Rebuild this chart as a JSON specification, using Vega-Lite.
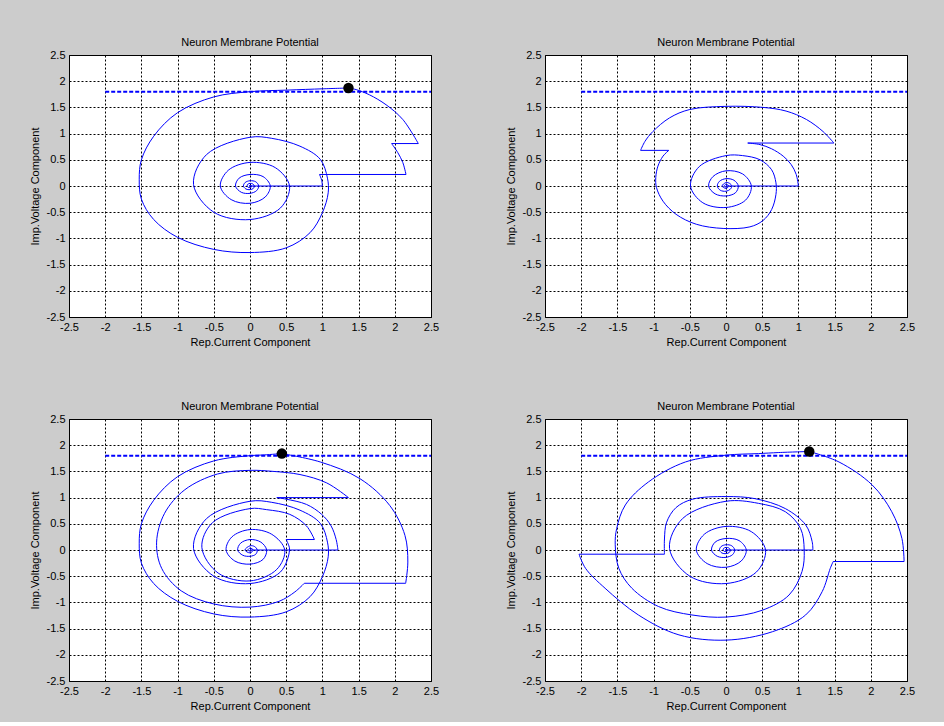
{
"$schema":"https://vega.github.io/schema/vega-lite/v6.json",
"background":"#cccccc",
"padding":{"left":28,"top":36,"right":28,"bottom":10},
"columns":2,
"spacing":{"row":102,"column":114},
"bounds":"flush",
"datasets":{
"thr":[{"x":-2,"y":1.8},{"x":2.5,"y":1.8}],
"dot":[{"p":1,"x":1.36,"y":1.87},{"p":3,"x":0.44,"y":1.84},{"p":4,"x":1.15,"y":1.88}],
"traj":[
{"p":1,"s":1,"i":0,"x":0,"y":0},{"p":1,"s":1,"i":1,"x":1.0,"y":0},
{"p":1,"s":2,"i":0,"x":1.0,"y":0},{"p":1,"s":2,"i":1,"x":0.99,"y":0.11},{"p":1,"s":2,"i":2,"x":0.96,"y":0.22},
{"p":1,"s":3,"i":0,"x":0.96,"y":0.22},{"p":1,"s":3,"i":1,"x":2.155,"y":0.22},
{"p":1,"s":4,"i":0,"x":2.155,"y":0.22},{"p":1,"s":4,"i":1,"x":2.11,"y":0.45},{"p":1,"s":4,"i":2,"x":2.04,"y":0.64},{"p":1,"s":4,"i":3,"x":1.956,"y":0.81},
{"p":1,"s":5,"i":0,"x":1.956,"y":0.81},{"p":1,"s":5,"i":1,"x":2.325,"y":0.81},
{"p":1,"s":6,"i":0,"x":2.325,"y":0.81},{"p":1,"s":6,"i":1,"x":2.11,"y":1.27},{"p":1,"s":6,"i":2,"x":1.88,"y":1.55},{"p":1,"s":6,"i":3,"x":1.65,"y":1.74},{"p":1,"s":6,"i":4,"x":1.465,"y":1.84},{"p":1,"s":6,"i":5,"x":1.36,"y":1.87},
{"p":1,"s":7,"i":0,"x":1.36,"y":1.87},{"p":1,"s":7,"i":1,"x":1.01,"y":1.855},{"p":1,"s":7,"i":2,"x":0.51,"y":1.83},{"p":1,"s":7,"i":3,"x":0,"y":1.8},{"p":1,"s":7,"i":4,"x":-0.5,"y":1.7},{"p":1,"s":7,"i":5,"x":-1.0,"y":1.4},{"p":1,"s":7,"i":6,"x":-1.33,"y":0.95},{"p":1,"s":7,"i":7,"x":-1.5,"y":0.5},{"p":1,"s":7,"i":8,"x":-1.53,"y":0.13},{"p":1,"s":7,"i":9,"x":-1.5,"y":-0.25},{"p":1,"s":7,"i":10,"x":-1.33,"y":-0.64},{"p":1,"s":7,"i":11,"x":-1.0,"y":-0.98},{"p":1,"s":7,"i":12,"x":-0.5,"y":-1.21},{"p":1,"s":7,"i":13,"x":0,"y":-1.27},{"p":1,"s":7,"i":14,"x":0.5,"y":-1.18},{"p":1,"s":7,"i":15,"x":0.83,"y":-0.89},{"p":1,"s":7,"i":16,"x":1.0,"y":-0.51},{"p":1,"s":7,"i":17,"x":1.08,"y":-0.13},{"p":1,"s":7,"i":18,"x":1.07,"y":0.15},{"p":1,"s":7,"i":19,"x":0.97,"y":0.51},{"p":1,"s":7,"i":20,"x":0.69,"y":0.76},{"p":1,"s":7,"i":21,"x":0.3,"y":0.91},{"p":1,"s":7,"i":22,"x":0,"y":0.93},
{"p":1,"s":7,"i":23,"x":-0.6,"y":0.6},{"p":1,"s":7,"i":24,"x":-0.78,"y":0.03},{"p":1,"s":7,"i":25,"x":-0.5,"y":-0.5},{"p":1,"s":7,"i":26,"x":0,"y":-0.64},{"p":1,"s":7,"i":27,"x":0.42,"y":-0.42},{"p":1,"s":7,"i":28,"x":0.546,"y":0},{"p":1,"s":7,"i":29,"x":0.35,"y":0.35},{"p":1,"s":7,"i":30,"x":0,"y":0.45},{"p":1,"s":7,"i":31,"x":-0.3,"y":0.3},{"p":1,"s":7,"i":32,"x":-0.41,"y":0},{"p":1,"s":7,"i":33,"x":-0.26,"y":-0.26},{"p":1,"s":7,"i":34,"x":0,"y":-0.33},{"p":1,"s":7,"i":35,"x":0.21,"y":-0.21},{"p":1,"s":7,"i":36,"x":0.28,"y":0},{"p":1,"s":7,"i":37,"x":0.18,"y":0.18},{"p":1,"s":7,"i":38,"x":0,"y":0.22},{"p":1,"s":7,"i":39,"x":-0.15,"y":0.15},{"p":1,"s":7,"i":40,"x":-0.2,"y":0},{"p":1,"s":7,"i":41,"x":-0.12,"y":-0.12},{"p":1,"s":7,"i":42,"x":0,"y":-0.14},{"p":1,"s":7,"i":43,"x":0.09,"y":-0.09},{"p":1,"s":7,"i":44,"x":0.12,"y":0},{"p":1,"s":7,"i":45,"x":0.08,"y":0.08},{"p":1,"s":7,"i":46,"x":0,"y":0.1},{"p":1,"s":7,"i":47,"x":-0.067,"y":0.067},{"p":1,"s":7,"i":48,"x":-0.09,"y":0},{"p":1,"s":7,"i":49,"x":-0.057,"y":-0.057},{"p":1,"s":7,"i":50,"x":0,"y":-0.07},{"p":1,"s":7,"i":51,"x":0.046,"y":-0.046},{"p":1,"s":7,"i":52,"x":0.06,"y":0},{"p":1,"s":7,"i":53,"x":0.039,"y":0.039},{"p":1,"s":7,"i":54,"x":0,"y":0.05},{"p":1,"s":7,"i":55,"x":-0.032,"y":0.032},{"p":1,"s":7,"i":56,"x":-0.04,"y":0},{"p":1,"s":7,"i":57,"x":-0.025,"y":-0.025},{"p":1,"s":7,"i":58,"x":0,"y":-0.03},{"p":1,"s":7,"i":59,"x":0.02,"y":-0.02},{"p":1,"s":7,"i":60,"x":0.025,"y":0},{"p":1,"s":7,"i":61,"x":0,"y":0.015},{"p":1,"s":7,"i":62,"x":-0.01,"y":0},{"p":1,"s":7,"i":63,"x":0,"y":0},

{"p":2,"s":1,"i":0,"x":0,"y":0},{"p":2,"s":1,"i":1,"x":1.0,"y":0},
{"p":2,"s":2,"i":0,"x":1.0,"y":0},{"p":2,"s":2,"i":1,"x":0.97,"y":0.22},{"p":2,"s":2,"i":2,"x":0.9,"y":0.41},{"p":2,"s":2,"i":3,"x":0.79,"y":0.57},{"p":2,"s":2,"i":4,"x":0.63,"y":0.71},{"p":2,"s":2,"i":5,"x":0.47,"y":0.79},{"p":2,"s":2,"i":6,"x":0.3,"y":0.82},
{"p":2,"s":3,"i":0,"x":0.3,"y":0.82},{"p":2,"s":3,"i":1,"x":1.49,"y":0.82},
{"p":2,"s":4,"i":0,"x":1.49,"y":0.82},{"p":2,"s":4,"i":1,"x":1.34,"y":1.04},{"p":2,"s":4,"i":2,"x":1.11,"y":1.27},{"p":2,"s":4,"i":3,"x":0.83,"y":1.43},{"p":2,"s":4,"i":4,"x":0.51,"y":1.5},{"p":2,"s":4,"i":5,"x":0,"y":1.52},{"p":2,"s":4,"i":6,"x":-0.5,"y":1.46},{"p":2,"s":4,"i":7,"x":-0.78,"y":1.3},{"p":2,"s":4,"i":8,"x":-1.01,"y":1.04},{"p":2,"s":4,"i":9,"x":-1.12,"y":0.85},{"p":2,"s":4,"i":10,"x":-1.18,"y":0.68},
{"p":2,"s":5,"i":0,"x":-1.18,"y":0.68},{"p":2,"s":5,"i":1,"x":-0.79,"y":0.68},
{"p":2,"s":6,"i":0,"x":-0.79,"y":0.68},{"p":2,"s":6,"i":1,"x":-0.87,"y":0.57},{"p":2,"s":6,"i":2,"x":-0.94,"y":0.38},{"p":2,"s":6,"i":3,"x":-0.97,"y":0.16},{"p":2,"s":6,"i":4,"x":-0.96,"y":-0.03},{"p":2,"s":6,"i":5,"x":-0.87,"y":-0.29},{"p":2,"s":6,"i":6,"x":-0.69,"y":-0.54},{"p":2,"s":6,"i":7,"x":-0.41,"y":-0.73},{"p":2,"s":6,"i":8,"x":-0.04,"y":-0.81},{"p":2,"s":6,"i":9,"x":0.33,"y":-0.78},{"p":2,"s":6,"i":10,"x":0.51,"y":-0.66},{"p":2,"s":6,"i":11,"x":0.63,"y":-0.45},{"p":2,"s":6,"i":12,"x":0.69,"y":-0.16},{"p":2,"s":6,"i":13,"x":0.69,"y":0.06},{"p":2,"s":6,"i":14,"x":0.63,"y":0.31},{"p":2,"s":6,"i":15,"x":0.47,"y":0.5},{"p":2,"s":6,"i":16,"x":0.23,"y":0.58},{"p":2,"s":6,"i":17,"x":0,"y":0.58},{"p":2,"s":6,"i":18,"x":-0.37,"y":0.37},{"p":2,"s":6,"i":19,"x":-0.49,"y":0},{"p":2,"s":6,"i":20,"x":-0.32,"y":-0.32},{"p":2,"s":6,"i":21,"x":0,"y":-0.41},{"p":2,"s":6,"i":22,"x":0.27,"y":-0.27},{"p":2,"s":6,"i":23,"x":0.35,"y":0},{"p":2,"s":6,"i":24,"x":0.23,"y":0.23},{"p":2,"s":6,"i":25,"x":0,"y":0.29},{"p":2,"s":6,"i":26,"x":-0.18,"y":0.18},{"p":2,"s":6,"i":27,"x":-0.24,"y":0},{"p":2,"s":6,"i":28,"x":-0.15,"y":-0.15},{"p":2,"s":6,"i":29,"x":0,"y":-0.19},{"p":2,"s":6,"i":30,"x":0.13,"y":-0.13},{"p":2,"s":6,"i":31,"x":0.17,"y":0},{"p":2,"s":6,"i":32,"x":0.11,"y":0.11},{"p":2,"s":6,"i":33,"x":0,"y":0.14},{"p":2,"s":6,"i":34,"x":-0.09,"y":0.09},{"p":2,"s":6,"i":35,"x":-0.12,"y":0},{"p":2,"s":6,"i":36,"x":-0.08,"y":-0.08},{"p":2,"s":6,"i":37,"x":0,"y":-0.1},{"p":2,"s":6,"i":38,"x":0.06,"y":-0.06},{"p":2,"s":6,"i":39,"x":0.08,"y":0},{"p":2,"s":6,"i":40,"x":0.05,"y":0.05},{"p":2,"s":6,"i":41,"x":0,"y":0.065},{"p":2,"s":6,"i":42,"x":-0.055,"y":0},{"p":2,"s":6,"i":43,"x":0,"y":-0.045},{"p":2,"s":6,"i":44,"x":0.04,"y":0},{"p":2,"s":6,"i":45,"x":0,"y":0.03},{"p":2,"s":6,"i":46,"x":-0.025,"y":0},{"p":2,"s":6,"i":47,"x":0,"y":-0.02},{"p":2,"s":6,"i":48,"x":0.015,"y":0},{"p":2,"s":6,"i":49,"x":0,"y":0},

{"p":3,"s":1,"i":0,"x":0,"y":0},{"p":3,"s":1,"i":1,"x":1.215,"y":0},
{"p":3,"s":2,"i":0,"x":1.215,"y":0},{"p":3,"s":2,"i":1,"x":1.19,"y":0.2},{"p":3,"s":2,"i":2,"x":1.12,"y":0.46},{"p":3,"s":2,"i":3,"x":0.99,"y":0.68},{"p":3,"s":2,"i":4,"x":0.78,"y":0.87},{"p":3,"s":2,"i":5,"x":0.5,"y":0.97},{"p":3,"s":2,"i":6,"x":0.37,"y":1.0},
{"p":3,"s":3,"i":0,"x":0.37,"y":1.0},{"p":3,"s":3,"i":1,"x":1.36,"y":1.0},
{"p":3,"s":4,"i":0,"x":1.36,"y":1.0},{"p":3,"s":4,"i":1,"x":1.06,"y":1.28},{"p":3,"s":4,"i":2,"x":0.69,"y":1.44},{"p":3,"s":4,"i":3,"x":0.32,"y":1.5},{"p":3,"s":4,"i":4,"x":0,"y":1.52},{"p":3,"s":4,"i":5,"x":-0.45,"y":1.45},{"p":3,"s":4,"i":6,"x":-0.9,"y":1.15},{"p":3,"s":4,"i":7,"x":-1.18,"y":0.7},{"p":3,"s":4,"i":8,"x":-1.29,"y":0.15},{"p":3,"s":4,"i":9,"x":-1.22,"y":-0.35},{"p":3,"s":4,"i":10,"x":-0.95,"y":-0.78},{"p":3,"s":4,"i":11,"x":-0.5,"y":-1.03},{"p":3,"s":4,"i":12,"x":0,"y":-1.09},{"p":3,"s":4,"i":13,"x":0.4,"y":-0.98},{"p":3,"s":4,"i":14,"x":0.62,"y":-0.8},{"p":3,"s":4,"i":15,"x":0.75,"y":-0.635},
{"p":3,"s":5,"i":0,"x":0.75,"y":-0.635},{"p":3,"s":5,"i":1,"x":2.15,"y":-0.635},
{"p":3,"s":6,"i":0,"x":2.15,"y":-0.635},{"p":3,"s":6,"i":1,"x":2.18,"y":-0.23},{"p":3,"s":6,"i":2,"x":2.14,"y":0.28},{"p":3,"s":6,"i":3,"x":1.93,"y":0.85},{"p":3,"s":6,"i":4,"x":1.52,"y":1.36},{"p":3,"s":6,"i":5,"x":0.97,"y":1.68},{"p":3,"s":6,"i":6,"x":0.44,"y":1.84},
{"p":3,"s":7,"i":0,"x":0.44,"y":1.84},{"p":3,"s":7,"i":1,"x":0.2,"y":1.815},{"p":3,"s":7,"i":2,"x":0,"y":1.8},{"p":3,"s":7,"i":3,"x":-0.5,"y":1.7},{"p":3,"s":7,"i":4,"x":-1.0,"y":1.4},{"p":3,"s":7,"i":5,"x":-1.33,"y":0.95},{"p":3,"s":7,"i":6,"x":-1.5,"y":0.5},{"p":3,"s":7,"i":7,"x":-1.53,"y":0.13},{"p":3,"s":7,"i":8,"x":-1.5,"y":-0.25},{"p":3,"s":7,"i":9,"x":-1.33,"y":-0.64},{"p":3,"s":7,"i":10,"x":-1.0,"y":-0.98},{"p":3,"s":7,"i":11,"x":-0.5,"y":-1.22},{"p":3,"s":7,"i":12,"x":0,"y":-1.28},{"p":3,"s":7,"i":13,"x":0.5,"y":-1.18},{"p":3,"s":7,"i":14,"x":0.83,"y":-0.89},{"p":3,"s":7,"i":15,"x":1.0,"y":-0.51},{"p":3,"s":7,"i":16,"x":1.08,"y":-0.13},{"p":3,"s":7,"i":17,"x":1.07,"y":0.15},{"p":3,"s":7,"i":18,"x":0.97,"y":0.51},{"p":3,"s":7,"i":19,"x":0.69,"y":0.76},{"p":3,"s":7,"i":20,"x":0.3,"y":0.91},{"p":3,"s":7,"i":21,"x":0,"y":0.93},{"p":3,"s":7,"i":22,"x":-0.6,"y":0.6},{"p":3,"s":7,"i":23,"x":-0.78,"y":0.03},{"p":3,"s":7,"i":24,"x":-0.5,"y":-0.5},{"p":3,"s":7,"i":25,"x":0,"y":-0.64},{"p":3,"s":7,"i":26,"x":0.42,"y":-0.42},{"p":3,"s":7,"i":27,"x":0.546,"y":0},{"p":3,"s":7,"i":28,"x":0.52,"y":0.14},{"p":3,"s":7,"i":29,"x":0.5,"y":0.2},
{"p":3,"s":8,"i":0,"x":0.5,"y":0.2},{"p":3,"s":8,"i":1,"x":0.89,"y":0.2},
{"p":3,"s":9,"i":0,"x":0.89,"y":0.2},{"p":3,"s":9,"i":1,"x":0.78,"y":0.46},{"p":3,"s":9,"i":2,"x":0.55,"y":0.68},{"p":3,"s":9,"i":3,"x":0.23,"y":0.77},{"p":3,"s":9,"i":4,"x":0,"y":0.79},{"p":3,"s":9,"i":5,"x":-0.52,"y":0.52},{"p":3,"s":9,"i":6,"x":-0.665,"y":0.05},{"p":3,"s":9,"i":7,"x":-0.44,"y":-0.44},{"p":3,"s":9,"i":8,"x":0,"y":-0.59},{"p":3,"s":9,"i":9,"x":0.37,"y":-0.37},{"p":3,"s":9,"i":10,"x":0.48,"y":0},{"p":3,"s":9,"i":11,"x":0.3,"y":0.3},{"p":3,"s":9,"i":12,"x":0,"y":0.39},{"p":3,"s":9,"i":13,"x":-0.25,"y":0.25},{"p":3,"s":9,"i":14,"x":-0.33,"y":0},{"p":3,"s":9,"i":15,"x":-0.21,"y":-0.21},{"p":3,"s":9,"i":16,"x":0,"y":-0.27},{"p":3,"s":9,"i":17,"x":0.18,"y":-0.18},{"p":3,"s":9,"i":18,"x":0.23,"y":0},{"p":3,"s":9,"i":19,"x":0.15,"y":0.15},{"p":3,"s":9,"i":20,"x":0,"y":0.2},{"p":3,"s":9,"i":21,"x":-0.13,"y":0.13},{"p":3,"s":9,"i":22,"x":-0.17,"y":0},{"p":3,"s":9,"i":23,"x":-0.1,"y":-0.1},{"p":3,"s":9,"i":24,"x":0,"y":-0.12},{"p":3,"s":9,"i":25,"x":0.08,"y":-0.08},{"p":3,"s":9,"i":26,"x":0.1,"y":0},{"p":3,"s":9,"i":27,"x":0.065,"y":0.065},{"p":3,"s":9,"i":28,"x":0,"y":0.08},{"p":3,"s":9,"i":29,"x":-0.07,"y":0},{"p":3,"s":9,"i":30,"x":0,"y":-0.055},{"p":3,"s":9,"i":31,"x":0.045,"y":0},{"p":3,"s":9,"i":32,"x":0,"y":0.035},{"p":3,"s":9,"i":33,"x":-0.03,"y":0},{"p":3,"s":9,"i":34,"x":0,"y":-0.02},{"p":3,"s":9,"i":35,"x":0.015,"y":0},{"p":3,"s":9,"i":36,"x":0,"y":0},

{"p":4,"s":1,"i":0,"x":0,"y":0},{"p":4,"s":1,"i":1,"x":1.2,"y":0},
{"p":4,"s":2,"i":0,"x":1.2,"y":0},{"p":4,"s":2,"i":1,"x":1.19,"y":0.16},{"p":4,"s":2,"i":2,"x":1.1,"y":0.48},{"p":4,"s":2,"i":3,"x":0.82,"y":0.79},{"p":4,"s":2,"i":4,"x":0.4,"y":0.98},{"p":4,"s":2,"i":5,"x":0,"y":1.02},{"p":4,"s":2,"i":6,"x":-0.46,"y":0.97},{"p":4,"s":2,"i":7,"x":-0.69,"y":0.81},{"p":4,"s":2,"i":8,"x":-0.82,"y":0.53},{"p":4,"s":2,"i":9,"x":-0.85,"y":0.21},{"p":4,"s":2,"i":10,"x":-0.85,"y":-0.08},
{"p":4,"s":3,"i":0,"x":-0.85,"y":-0.08},{"p":4,"s":3,"i":1,"x":-2.03,"y":-0.08},
{"p":4,"s":4,"i":0,"x":-2.03,"y":-0.08},{"p":4,"s":4,"i":1,"x":-1.94,"y":-0.35},{"p":4,"s":4,"i":2,"x":-1.67,"y":-0.73},{"p":4,"s":4,"i":3,"x":-1.21,"y":-1.24},{"p":4,"s":4,"i":4,"x":-0.65,"y":-1.62},{"p":4,"s":4,"i":5,"x":0,"y":-1.72},{"p":4,"s":4,"i":6,"x":0.64,"y":-1.56},{"p":4,"s":4,"i":7,"x":1.1,"y":-1.24},{"p":4,"s":4,"i":8,"x":1.33,"y":-0.79},{"p":4,"s":4,"i":9,"x":1.44,"y":-0.35},{"p":4,"s":4,"i":10,"x":1.48,"y":-0.22},
{"p":4,"s":5,"i":0,"x":1.48,"y":-0.22},{"p":4,"s":5,"i":1,"x":2.46,"y":-0.22},
{"p":4,"s":6,"i":0,"x":2.46,"y":-0.22},{"p":4,"s":6,"i":1,"x":2.43,"y":0.22},{"p":4,"s":6,"i":2,"x":2.29,"y":0.73},{"p":4,"s":6,"i":3,"x":2.02,"y":1.24},{"p":4,"s":6,"i":4,"x":1.56,"y":1.68},{"p":4,"s":6,"i":5,"x":1.15,"y":1.88},
{"p":4,"s":7,"i":0,"x":1.15,"y":1.88},{"p":4,"s":7,"i":1,"x":0.73,"y":1.86},{"p":4,"s":7,"i":2,"x":0.45,"y":1.84},{"p":4,"s":7,"i":3,"x":0,"y":1.81},{"p":4,"s":7,"i":4,"x":-0.56,"y":1.68},{"p":4,"s":7,"i":5,"x":-1.07,"y":1.3},{"p":4,"s":7,"i":6,"x":-1.39,"y":0.86},{"p":4,"s":7,"i":7,"x":-1.51,"y":0.41},{"p":4,"s":7,"i":8,"x":-1.53,"y":0.1},{"p":4,"s":7,"i":9,"x":-1.48,"y":-0.35},{"p":4,"s":7,"i":10,"x":-1.3,"y":-0.73},{"p":4,"s":7,"i":11,"x":-0.93,"y":-1.08},{"p":4,"s":7,"i":12,"x":-0.47,"y":-1.24},{"p":4,"s":7,"i":13,"x":0,"y":-1.28},{"p":4,"s":7,"i":14,"x":0.5,"y":-1.15},{"p":4,"s":7,"i":15,"x":0.87,"y":-0.86},{"p":4,"s":7,"i":16,"x":1.05,"y":-0.41},{"p":4,"s":7,"i":17,"x":1.08,"y":0},{"p":4,"s":7,"i":18,"x":1.03,"y":0.41},{"p":4,"s":7,"i":19,"x":0.82,"y":0.73},{"p":4,"s":7,"i":20,"x":0.45,"y":0.89},{"p":4,"s":7,"i":21,"x":0,"y":0.93},
{"p":4,"s":7,"i":22,"x":-0.6,"y":0.6},{"p":4,"s":7,"i":23,"x":-0.78,"y":0.03},{"p":4,"s":7,"i":24,"x":-0.5,"y":-0.5},{"p":4,"s":7,"i":25,"x":0,"y":-0.64},{"p":4,"s":7,"i":26,"x":0.42,"y":-0.42},{"p":4,"s":7,"i":27,"x":0.546,"y":0},{"p":4,"s":7,"i":28,"x":0.35,"y":0.35},{"p":4,"s":7,"i":29,"x":0,"y":0.45},{"p":4,"s":7,"i":30,"x":-0.3,"y":0.3},{"p":4,"s":7,"i":31,"x":-0.41,"y":0},{"p":4,"s":7,"i":32,"x":-0.26,"y":-0.26},{"p":4,"s":7,"i":33,"x":0,"y":-0.33},{"p":4,"s":7,"i":34,"x":0.21,"y":-0.21},{"p":4,"s":7,"i":35,"x":0.28,"y":0},{"p":4,"s":7,"i":36,"x":0.18,"y":0.18},{"p":4,"s":7,"i":37,"x":0,"y":0.22},{"p":4,"s":7,"i":38,"x":-0.15,"y":0.15},{"p":4,"s":7,"i":39,"x":-0.2,"y":0},{"p":4,"s":7,"i":40,"x":-0.12,"y":-0.12},{"p":4,"s":7,"i":41,"x":0,"y":-0.14},{"p":4,"s":7,"i":42,"x":0.09,"y":-0.09},{"p":4,"s":7,"i":43,"x":0.12,"y":0},{"p":4,"s":7,"i":44,"x":0.08,"y":0.08},{"p":4,"s":7,"i":45,"x":0,"y":0.1},{"p":4,"s":7,"i":46,"x":-0.067,"y":0.067},{"p":4,"s":7,"i":47,"x":-0.09,"y":0},{"p":4,"s":7,"i":48,"x":-0.057,"y":-0.057},{"p":4,"s":7,"i":49,"x":0,"y":-0.07},{"p":4,"s":7,"i":50,"x":0.046,"y":-0.046},{"p":4,"s":7,"i":51,"x":0.06,"y":0},{"p":4,"s":7,"i":52,"x":0.039,"y":0.039},{"p":4,"s":7,"i":53,"x":0,"y":0.05},{"p":4,"s":7,"i":54,"x":-0.032,"y":0.032},{"p":4,"s":7,"i":55,"x":-0.04,"y":0},{"p":4,"s":7,"i":56,"x":-0.025,"y":-0.025},{"p":4,"s":7,"i":57,"x":0,"y":-0.03},{"p":4,"s":7,"i":58,"x":0.02,"y":-0.02},{"p":4,"s":7,"i":59,"x":0.025,"y":0},{"p":4,"s":7,"i":60,"x":0,"y":0.015},{"p":4,"s":7,"i":61,"x":-0.01,"y":0},{"p":4,"s":7,"i":62,"x":0,"y":0}
]},
"concat":[
{"width":362,"height":262,"title":"Neuron Membrane Potential",
 "encoding":{
  "x":{"field":"x","type":"quantitative","scale":{"domain":[-2.5,2.5],"nice":false,"zero":false},"axis":{"values":[-2.5,-2,-1.5,-1,-0.5,0,0.5,1,1.5,2,2.5],"labelExpr":"toString(datum.value)"},"title":"Rep.Current Component"},
  "y":{"field":"y","type":"quantitative","scale":{"domain":[-2.5,2.5],"nice":false,"zero":false},"axis":{"values":[-2.5,-2,-1.5,-1,-0.5,0,0.5,1,1.5,2,2.5],"labelExpr":"toString(datum.value)"},"title":"Imp.Voltage Component"}},
 "layer":[
  {"data":{"name":"thr"},"mark":{"type":"line","color":"#0000ff","strokeWidth":2,"strokeDash":[4,2]}},
  {"data":{"name":"traj"},"transform":[{"filter":"datum.p==1"}],"mark":{"type":"line","interpolate":"catmull-rom","color":"#0000ff","strokeWidth":1},"encoding":{"detail":{"field":"s"},"order":{"field":"i"}}},
  {"data":{"name":"dot"},"transform":[{"filter":"datum.p==1"}],"mark":{"type":"point","filled":true,"color":"black","size":110,"opacity":1}}
 ]},
{"width":362,"height":262,"title":"Neuron Membrane Potential",
 "encoding":{
  "x":{"field":"x","type":"quantitative","scale":{"domain":[-2.5,2.5],"nice":false,"zero":false},"axis":{"values":[-2.5,-2,-1.5,-1,-0.5,0,0.5,1,1.5,2,2.5],"labelExpr":"toString(datum.value)"},"title":"Rep.Current Component"},
  "y":{"field":"y","type":"quantitative","scale":{"domain":[-2.5,2.5],"nice":false,"zero":false},"axis":{"values":[-2.5,-2,-1.5,-1,-0.5,0,0.5,1,1.5,2,2.5],"labelExpr":"toString(datum.value)"},"title":"Imp.Voltage Component"}},
 "layer":[
  {"data":{"name":"thr"},"mark":{"type":"line","color":"#0000ff","strokeWidth":2,"strokeDash":[4,2]}},
  {"data":{"name":"traj"},"transform":[{"filter":"datum.p==2"}],"mark":{"type":"line","interpolate":"catmull-rom","color":"#0000ff","strokeWidth":1},"encoding":{"detail":{"field":"s"},"order":{"field":"i"}}}
 ]},
{"width":362,"height":262,"title":"Neuron Membrane Potential",
 "encoding":{
  "x":{"field":"x","type":"quantitative","scale":{"domain":[-2.5,2.5],"nice":false,"zero":false},"axis":{"values":[-2.5,-2,-1.5,-1,-0.5,0,0.5,1,1.5,2,2.5],"labelExpr":"toString(datum.value)"},"title":"Rep.Current Component"},
  "y":{"field":"y","type":"quantitative","scale":{"domain":[-2.5,2.5],"nice":false,"zero":false},"axis":{"values":[-2.5,-2,-1.5,-1,-0.5,0,0.5,1,1.5,2,2.5],"labelExpr":"toString(datum.value)"},"title":"Imp.Voltage Component"}},
 "layer":[
  {"data":{"name":"thr"},"mark":{"type":"line","color":"#0000ff","strokeWidth":2,"strokeDash":[4,2]}},
  {"data":{"name":"traj"},"transform":[{"filter":"datum.p==3"}],"mark":{"type":"line","interpolate":"catmull-rom","color":"#0000ff","strokeWidth":1},"encoding":{"detail":{"field":"s"},"order":{"field":"i"}}},
  {"data":{"name":"dot"},"transform":[{"filter":"datum.p==3"}],"mark":{"type":"point","filled":true,"color":"black","size":110,"opacity":1}}
 ]},
{"width":362,"height":262,"title":"Neuron Membrane Potential",
 "encoding":{
  "x":{"field":"x","type":"quantitative","scale":{"domain":[-2.5,2.5],"nice":false,"zero":false},"axis":{"values":[-2.5,-2,-1.5,-1,-0.5,0,0.5,1,1.5,2,2.5],"labelExpr":"toString(datum.value)"},"title":"Rep.Current Component"},
  "y":{"field":"y","type":"quantitative","scale":{"domain":[-2.5,2.5],"nice":false,"zero":false},"axis":{"values":[-2.5,-2,-1.5,-1,-0.5,0,0.5,1,1.5,2,2.5],"labelExpr":"toString(datum.value)"},"title":"Imp.Voltage Component"}},
 "layer":[
  {"data":{"name":"thr"},"mark":{"type":"line","color":"#0000ff","strokeWidth":2,"strokeDash":[4,2]}},
  {"data":{"name":"traj"},"transform":[{"filter":"datum.p==4"}],"mark":{"type":"line","interpolate":"catmull-rom","color":"#0000ff","strokeWidth":1},"encoding":{"detail":{"field":"s"},"order":{"field":"i"}}},
  {"data":{"name":"dot"},"transform":[{"filter":"datum.p==4"}],"mark":{"type":"point","filled":true,"color":"black","size":110,"opacity":1}}
 ]}
],
"config":{
 "view":{"fill":"white","stroke":"black","strokeWidth":1},
 "font":"Liberation Sans",
 "axis":{"grid":true,"gridColor":"black","gridDash":[2,2],"gridWidth":1,"gridOpacity":1,"domain":false,"ticks":false,"labelFontSize":11,"labelColor":"black","labelFont":"Liberation Sans","titleFont":"Liberation Sans","titleFontSize":11,"titleFontWeight":"normal","titleColor":"black","labelPadding":4,"labelFlush":false,"labelOverlap":false,"labelBound":false},
 "axisX":{"titlePadding":4},
 "axisY":{"titlePadding":6},
 "title":{"fontSize":11,"fontWeight":"normal","color":"black","font":"Liberation Sans","offset":1,"baseline":"alphabetic","frame":"group"}
}
}
